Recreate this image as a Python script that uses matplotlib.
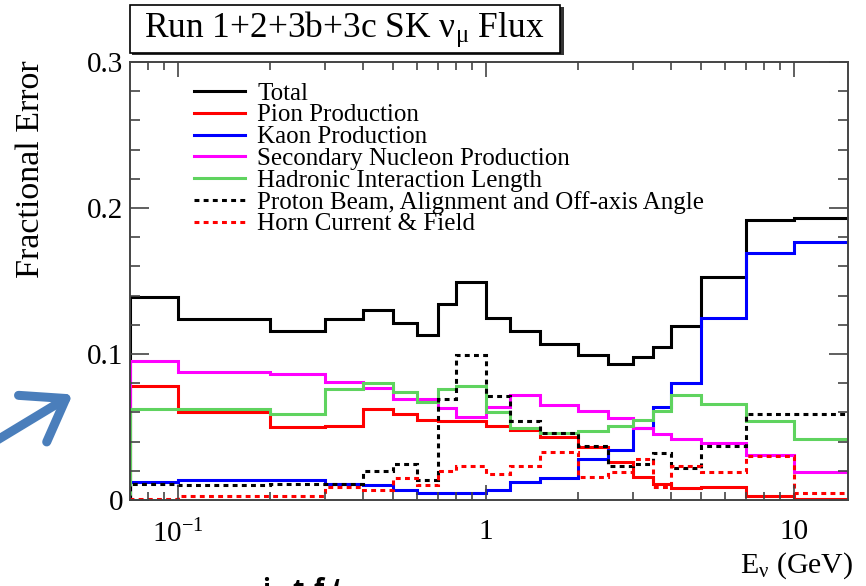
import matplotlib
matplotlib.use('Agg')
import matplotlib.pyplot as plt
from matplotlib.patches import Rectangle, FancyArrowPatch
from matplotlib.lines import Line2D
from matplotlib.ticker import FixedLocator, FixedFormatter, NullFormatter
import numpy as np

plt.rcParams['font.family'] = ['Liberation Serif', 'DejaVu Serif']
plt.rcParams['mathtext.fontset'] = 'custom'
plt.rcParams['mathtext.rm'] = 'Liberation Serif'

# Flux bin edges in GeV (first/last edges trimmed to the plotted range)
edges = [0.07, 0.1, 0.2, 0.3, 0.4, 0.5, 0.6, 0.7, 0.8, 1.0, 1.2,
         1.5, 2.0, 2.5, 3.0, 3.5, 4.0, 5.0, 7.0, 10.0, 30.0]

total = [0.139, 0.124, 0.116, 0.124, 0.130, 0.121, 0.113, 0.134, 0.149, 0.125,
         0.116, 0.107, 0.099, 0.093, 0.098, 0.105, 0.119, 0.153, 0.192, 0.193]
pion = [0.078, 0.060, 0.050, 0.051, 0.062, 0.059, 0.055, 0.054, 0.054, 0.051,
        0.048, 0.043, 0.036, 0.026, 0.016, 0.011, 0.008, 0.009, 0.003, 0.001]
kaon = [0.012, 0.014, 0.014, 0.011, 0.010, 0.007, 0.005, 0.005, 0.005, 0.007,
        0.012, 0.015, 0.028, 0.034, 0.049, 0.064, 0.080, 0.125, 0.169, 0.177]
secondary = [0.095, 0.088, 0.086, 0.081, 0.077, 0.069, 0.069, 0.063, 0.057, 0.064,
             0.072, 0.065, 0.061, 0.056, 0.049, 0.045, 0.042, 0.039, 0.031, 0.019]
hadronic = [0.062, 0.062, 0.059, 0.076, 0.080, 0.074, 0.067, 0.076, 0.078, 0.060,
            0.049, 0.046, 0.047, 0.051, 0.055, 0.061, 0.072, 0.066, 0.054, 0.042]
proton = [0.011, 0.010, 0.011, 0.011, 0.020, 0.025, 0.014, 0.069, 0.099, 0.071,
          0.054, 0.046, 0.037, 0.023, 0.025, 0.032, 0.022, 0.037, 0.059, 0.059]
horn = [0.001, 0.003, 0.003, 0.009, 0.007, 0.015, 0.010, 0.020, 0.023, 0.018,
        0.023, 0.033, 0.016, 0.019, 0.028, 0.009, 0.023, 0.019, 0.030, 0.005]

labels = ['Total', 'Pion Production', 'Kaon Production',
          'Secondary Nucleon Production', 'Hadronic Interaction Length',
          'Proton Beam, Alignment and Off-axis Angle', 'Horn Current & Field']

dotted = (0, (1.6, 1.4))
series = [
    (total, 'black', '-'),
    (pion, '#ff0000', '-'),
    (kaon, '#0000ff', '-'),
    (secondary, '#ff00ff', '-'),
    (hadronic, '#5fd35f', '-'),
    (proton, 'black', dotted),
    (horn, '#ff0000', dotted),
]

W, H = 866, 586
fig = plt.figure(figsize=(W / 100, H / 100), dpi=100)


def fx(x):
    return x / W


def fy(y):
    return 1 - y / H


ax = fig.add_axes([fx(130), fy(500), (848 - 130) / W, (500 - 62) / H])

for values, color, ls in series:
    ax.stairs(values, edges, baseline=0, color=color, lw=2.2, linestyle=ls)

ax.set_xscale('log')
ax.set_xlim(0.07, 15)
ax.set_ylim(0, 0.3)

ax.xaxis.set_major_locator(FixedLocator([0.1, 1, 10]))
ax.xaxis.set_major_formatter(FixedFormatter([r'$\mathregular{10^{-1}}$', '1', '10']))
minor_x = [0.08, 0.09] + [m / 10 for m in range(2, 10)] + list(range(2, 10))
ax.xaxis.set_minor_locator(FixedLocator(minor_x))
ax.xaxis.set_minor_formatter(NullFormatter())

ax.yaxis.set_major_locator(FixedLocator([0, 0.1, 0.2, 0.3]))
ax.yaxis.set_major_formatter(FixedFormatter(['0', '0.1', '0.2', '0.3']))
ax.yaxis.set_minor_locator(FixedLocator(np.arange(0, 0.301, 0.02)))

ax.tick_params(which='both', direction='in', top=True, right=True,
               color='#444444', width=1.2, labelsize=21)
ax.tick_params(axis='y', which='major', length=14, pad=5)
ax.tick_params(axis='y', which='minor', length=7)
ax.tick_params(axis='x', which='major', length=11, pad=14)
ax.tick_params(axis='x', which='minor', length=6)
for sp in ax.spines.values():
    sp.set_color('#444444')
    sp.set_linewidth(1.4)

# legend drawn by hand, ROOT style (no frame, tight rows)
for i, ((values, color, ls), text) in enumerate(zip(series, labels)):
    y = fy(91 + i * 21.8)
    fig.add_artist(Line2D([fx(194), fx(245)], [y, y], color=color, lw=2.2,
                          linestyle=ls, transform=fig.transFigure))
    fig.text(fx(257), y, text, fontsize=18, va='center_baseline', ha='left')

# title pave with shadow
fig.add_artist(Rectangle((fx(132), fy(55)), (562 - 130) / W, (53 - 5) / H,
                         transform=fig.transFigure, facecolor='#333333',
                         edgecolor='none'))
fig.add_artist(Rectangle((fx(130), fy(53)), (560 - 130) / W, (53 - 5) / H,
                         transform=fig.transFigure, facecolor='white',
                         edgecolor='black', lw=1.2))
fig.text(fx(344), fy(29), r'Run 1+2+3b+3c SK $\mathregular{\nu_{\mu}}$ Flux',
         fontsize=25.5, ha='center', va='center')

fig.text(fx(31), fy(60), 'Fractional Error', rotation=90, fontsize=24.5,
         ha='center', va='top')
fig.text(fx(853), fy(573), r'$\mathregular{E_{\nu}}$ (GeV)', fontsize=21.5,
         ha='right', va='baseline')

# blue pointer arrow at left
arrow = FancyArrowPatch((fx(-6), fy(442)), (fx(75), fy(393)),
                        transform=fig.transFigure,
                        arrowstyle='->,head_length=1.0,head_width=0.7',
                        mutation_scale=28, lw=6.5, color='#4a7ebb',
                        capstyle='round', joinstyle='round')
fig.add_artist(arrow)

# tops of a text line cut by the lower edge
for xp, ch in [(262, 'i'), (292, 't'), (314, 'f'), (334, '\u2018')]:
    fig.text(fx(xp), fy(598), ch, fontsize=19, fontweight='bold',
             family='Open Sans', ha='left', va='baseline')

fig.savefig('out.png', dpi=100)
